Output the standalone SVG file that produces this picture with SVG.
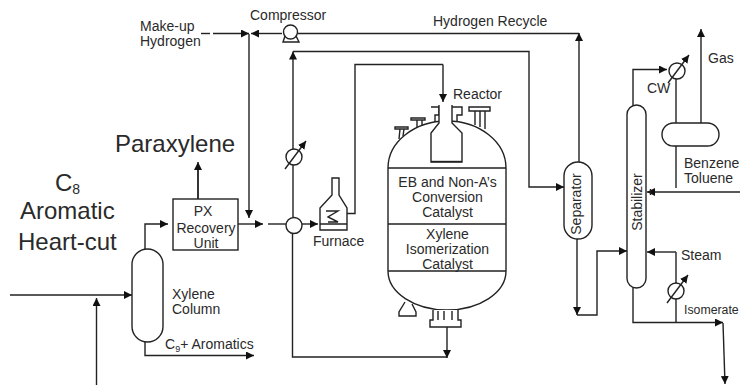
<svg xmlns="http://www.w3.org/2000/svg" width="740" height="385" viewBox="0 0 740 385">
<style>
text{font-family:"Liberation Sans",Arial,sans-serif;fill:#2a2a2a;font-size:14px}
.l{fill:none;stroke:#222;stroke-width:1.4}
.e{fill:#fff;stroke:#222;stroke-width:1.4}
.big{font-size:24px}
.m{text-anchor:middle}
</style>
<defs>
<marker id="a" markerUnits="userSpaceOnUse" markerWidth="9" markerHeight="8" refX="8" refY="4" orient="auto"><path d="M0 0L8 4L0 8Z" fill="#111"/></marker>
<g id="hx"><circle r="8" class="e"/><path d="M-9 12L12 -16" class="l" marker-end="url(#a)"/></g>
</defs>
<rect width="740" height="385" fill="#fff"/>
<g id="connectors">
<path class="l" d="M201 33.5H210"/>
<path class="l" marker-end="url(#a)" d="M213 33.5H249"/>
<path class="l" marker-end="url(#a)" d="M282 33.5H251"/>
<path class="l" marker-end="url(#a)" d="M249 34V218"/>
<path class="l" d="M298 33.5H579"/>
<path class="l" marker-end="url(#a)" d="M579 162V33"/>
<path class="l" marker-end="url(#a)" d="M293 217V51.5"/>
<path class="l" marker-end="url(#a)" d="M293 51.5H529V187H564"/>
<path class="l" d="M347 213.500H355V64.500H443"/>
<path class="l" d="M198 199V170"/>
<path class="l" marker-end="url(#a)" d="M198 199V162"/>
<path class="l" marker-end="url(#a)" d="M145 249V224H168"/>
<path class="l" marker-end="url(#a)" d="M238 224H263"/>
<path class="l" d="M268 224H286"/>
<path class="l" marker-end="url(#a)" d="M302 224H318"/>
<path class="l" d="M292.500 233V357H447"/>
<path class="l" marker-end="url(#a)" d="M447 327V358"/>
<path class="l" marker-end="url(#a)" d="M10 295H132"/>
<path class="l" marker-end="url(#a)" d="M96.500 385V298"/>
<path class="l" marker-end="url(#a)" d="M145 342V355.500H254"/>
<path class="l" marker-end="url(#a)" d="M577 239V315"/>
<path class="l" marker-end="url(#a)" d="M577 315H597V251H627"/>
<path class="l" marker-end="url(#a)" d="M633 105V69.500H667"/>
<path class="l" d="M676 79V123"/>
<path class="l" marker-end="url(#a)" d="M701 123V29"/>
<path class="l" d="M676 146V188"/>
<path class="l" marker-end="url(#a)" d="M740 192H647"/>
<path class="l" d="M650.500 189V195"/>
<path class="l" d="M676 323V252"/>
<path class="l" marker-end="url(#a)" d="M676 252H647"/>
<path class="l" marker-end="url(#a)" d="M633 288V322.500H723"/>
<path class="l" marker-end="url(#a)" d="M723 323L725 384"/>
<path class="l" marker-end="url(#a)" d="M443 64.500V102"/>
</g>
<g id="compressor"><path class="e" d="M285 36L283 42H299L296 36Z"/><circle cx="290.500" cy="32" r="7" class="e"/><text x="250" y="20">Compressor</text></g>
<g id="makeup"><text x="140" y="31">Make-up</text><text x="140" y="46">Hydrogen</text></g>
<g id="hx1"><use href="#hx" x="294" y="157"/></g>
<g id="paraxylene"><text x="115" y="152" class="big">Paraxylene</text></g>
<g id="feed"><text x="55" y="191" class="big">C<tspan font-size="14" dy="3">8</tspan></text><text x="20" y="219" class="big">Aromatic</text><text x="18" y="250" class="big">Heart-cut</text></g>
<g id="px"><rect x="173" y="199" width="65" height="51" class="e"/><text x="203" y="216" class="m">PX</text><text x="206" y="233" class="m">Recovery</text><text x="206" y="248" class="m">Unit</text></g>
<g id="xylene"><rect x="132" y="249" width="31" height="93" rx="15.500" class="e"/><text x="172" y="299">Xylene</text><text x="172" y="314">Column</text></g>
<g id="c9"><text x="165" y="349">C<tspan font-size="9" dy="3">9</tspan><tspan dy="-3">+ Aromatics</tspan></text></g>
<g id="mixer"><circle cx="294" cy="225.500" r="8" class="e"/></g>
<g id="furnace"><path class="e" d="M320 230V208L332 195V178H339V195L347 208V230Z"/><path class="l" d="M320 224H347M326 211H338L328 217L338 222H328"/><text x="313" y="246">Furnace</text></g>
<g id="reactor">
<path class="l" d="M395 127H408V129H395ZM400 129L399 139M404 129L403 136"/>
<path class="l" d="M411 118H425V120H411ZM417 120V128M422 120V127"/>
<path class="l" d="M469 107H490V111H469ZM475 111V125M480 111V127M485 111V129"/>
<path class="l" d="M431 107H439V115H435V125H431M452 107H462V115H457V125H462"/>
<path class="e" d="M388 168A59 47 0 0 1 506 168V271A59 39 0 0 1 388 271Z"/>
<path class="l" d="M388 168H506M388 224H506M388 271H506"/>
<path class="e" d="M439 105V123L431 133V162H462V133L452 123V105"/>
<path class="l" d="M431 161.500H462" stroke-width="2.400"/>
<path class="e" d="M405 302L399 312V316H416V312L412 304"/>
<path class="e" d="M433 310V320H430V327H461V320H458V310"/>
<path class="l" d="M438 311V320M444 311V320M452 311V320"/>
<text x="453" y="99">Reactor</text>
<text x="447.500" y="187" class="m">EB and Non-A’s</text><text x="447.500" y="202" class="m">Conversion</text><text x="447.500" y="217" class="m">Catalyst</text>
<text x="447.500" y="239" class="m">Xylene</text><text x="447.500" y="254" class="m">Isomerization</text><text x="447.500" y="269" class="m">Catalyst</text>
</g>
<g id="separator"><rect x="564" y="162" width="28" height="77" rx="14" class="e"/><text class="m" transform="translate(581 204) rotate(-90)">Separator</text></g>
<g id="stabilizer"><rect x="627" y="105" width="19" height="183" rx="9.500" class="e"/><text class="m" transform="translate(642 202) rotate(-90)">Stabilizer</text></g>
<g id="hx2"><use href="#hx" x="677" y="71"/><text x="647" y="93">CW</text></g>
<g id="drum"><rect x="662" y="123" width="57" height="23" rx="11.500" class="e"/><text x="708" y="63">Gas</text><text x="684" y="168">Benzene</text><text x="684" y="183">Toluene</text></g>
<g id="hx3"><use href="#hx" x="676" y="291"/><text x="681" y="260">Steam</text><text x="684" y="314" style="font-size:12.3px">Isomerate</text></g>
<text x="433" y="26">Hydrogen Recycle</text>
</svg>
